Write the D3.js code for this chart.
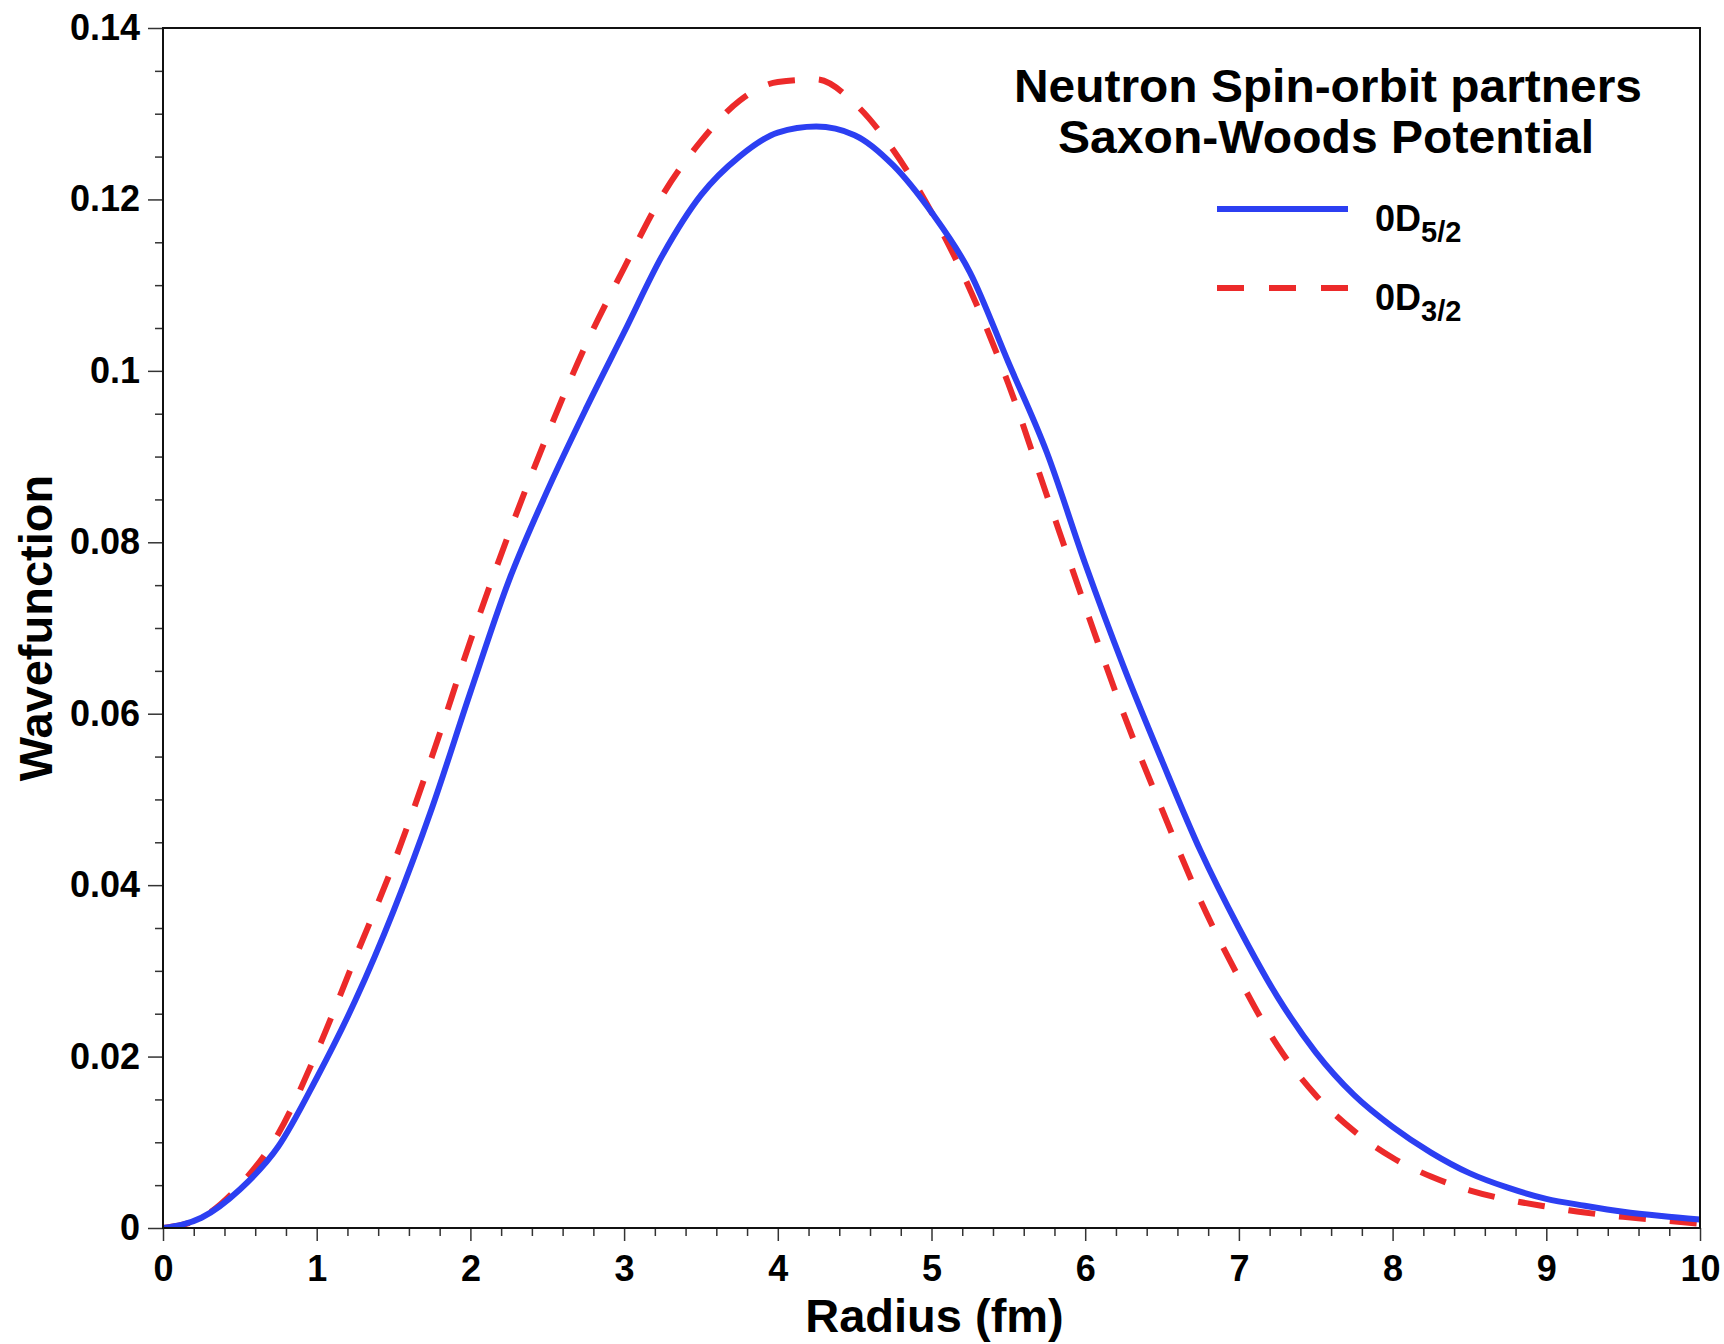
<!DOCTYPE html>
<html>
<head>
<meta charset="utf-8">
<script src="https://cdn.jsdelivr.net/npm/d3@7"></script>
<style>
  html, body { margin: 0; padding: 0; background: #fff; }
  svg { display: block; }
  text { font-family: "Liberation Sans", Arial, Helvetica, sans-serif; font-weight: bold; fill: #000; }
</style>
</head>
<body>
<svg id="chart" width="1724" height="1344"></svg>
<script>
// ---- data ----
const radius = [0,0.25,0.5,0.75,1,1.25,1.5,1.75,2,2.25,2.5,2.75,3,3.25,3.5,3.75,4,4.25,4.5,4.75,5,5.25,5.5,5.75,6,6.25,6.5,6.75,7,7.25,7.5,7.75,8,8.25,8.5,8.75,9,9.25,9.5,9.75,10];
const d52 = [0,0.0012,0.0045,0.0095,0.0175,0.0265,0.037,0.049,0.0625,0.0755,0.0860,0.0955,0.1045,0.1135,0.1205,0.1250,0.1278,0.1285,0.1275,0.1240,0.1185,0.1115,0.1010,0.0905,0.0775,0.0655,0.0545,0.0440,0.0350,0.0270,0.0205,0.0155,0.0118,0.0088,0.0064,0.0047,0.0034,0.0026,0.0019,0.0014,0.0010];
const d32 = [0,0.0012,0.005,0.011,0.0205,0.0315,0.0425,0.055,0.0685,0.081,0.0925,0.103,0.112,0.1205,0.1268,0.1315,0.1337,0.1340,0.1312,0.1258,0.1185,0.1095,0.0985,0.0855,0.0725,0.0600,0.0488,0.0382,0.0292,0.0213,0.0155,0.0113,0.0082,0.0060,0.0044,0.0033,0.0025,0.0018,0.0013,0.0009,0.0005];
const seriesNames = ["0D", "0D"];
const seriesSubs = ["5/2", "3/2"];
const xTicks = [0,1,2,3,4,5,6,7,8,9,10];
const xTickLabels = ["0","1","2","3","4","5","6","7","8","9","10"];
const yTicks = [0,0.02,0.04,0.06,0.08,0.1,0.12,0.14];
const yTickLabels = ["0","0.02","0.04","0.06","0.08","0.1","0.12","0.14"];
const titleLines = ["Neutron Spin-orbit partners", "Saxon-Woods Potential"];
const xTitle = "Radius (fm)";
const yTitle = "Wavefunction";

// ---- layout ----
const L = 163, T = 28, R = 1700, B = 1228;
const svg = d3.select("#chart");
const x = d3.scaleLinear().domain([0, 10]).range([L, R]);
const y = d3.scaleLinear().domain([0, 0.14]).range([B, T]);

const xMinor = d3.range(0, 10.0001, 0.2).filter(v => Math.abs(v - Math.round(v)) > 1e-6);
const yMinor = d3.range(0, 0.14001, 0.005).filter(v => Math.abs(v / 0.02 - Math.round(v / 0.02)) > 1e-6);

// minor ticks
svg.append("g").attr("transform", `translate(0,${B})`)
  .call(d3.axisBottom(x).tickValues(xMinor).tickSize(8).tickFormat(""))
  .call(g => g.select(".domain").remove())
  .call(g => g.selectAll("line").attr("stroke", "#333").attr("stroke-width", 1.5));
svg.append("g").attr("transform", `translate(${L},0)`)
  .call(d3.axisLeft(y).tickValues(yMinor).tickSize(8).tickFormat(""))
  .call(g => g.select(".domain").remove())
  .call(g => g.selectAll("line").attr("stroke", "#333").attr("stroke-width", 1.5));

// major ticks
svg.append("g").attr("transform", `translate(0,${B})`)
  .call(d3.axisBottom(x).tickValues(xTicks).tickSize(13).tickPadding(14)
    .tickFormat((d, i) => xTickLabels[i]))
  .call(g => g.select(".domain").remove())
  .call(g => g.selectAll("line").attr("stroke", "#333").attr("stroke-width", 1.5))
  .call(g => g.selectAll("text").attr("font-size", 36).attr("font-family", "Liberation Sans, Arial, sans-serif").attr("font-weight", "bold").attr("fill", "#000"));
svg.append("g").attr("transform", `translate(${L},0)`)
  .call(d3.axisLeft(y).tickValues(yTicks).tickSize(15).tickPadding(8)
    .tickFormat((d, i) => yTickLabels[i]))
  .call(g => g.select(".domain").remove())
  .call(g => g.selectAll("line").attr("stroke", "#333").attr("stroke-width", 1.5))
  .call(g => g.selectAll("text").attr("font-size", 36).attr("font-family", "Liberation Sans, Arial, sans-serif").attr("font-weight", "bold").attr("fill", "#000"));

// clip
svg.append("clipPath").attr("id", "clip").append("rect")
  .attr("x", L).attr("y", T).attr("width", R - L).attr("height", B - T);

const line = d3.line().x(d => x(d[0])).y(d => y(d[1])).curve(d3.curveMonotoneX);
const blue = "#2c3ff2", red = "#ec2a2a";

svg.append("path").datum(radius.map((r, i) => [r, d32[i]]))
  .attr("clip-path", "url(#clip)")
  .attr("d", line).attr("fill", "none").attr("stroke", red)
  .attr("stroke-width", 6).attr("stroke-dasharray", "27,24");
svg.append("path").datum(radius.map((r, i) => [r, d52[i]]))
  .attr("clip-path", "url(#clip)")
  .attr("d", line).attr("fill", "none").attr("stroke", blue)
  .attr("stroke-width", 6).attr("stroke-linejoin", "round");

// frame
svg.append("rect").attr("x", L).attr("y", T).attr("width", R - L).attr("height", B - T)
  .attr("fill", "none").attr("stroke", "#111").attr("stroke-width", 2);

// title
const tl = svg.append("g");
tl.append("text").attr("x", 1328).attr("y", 102).attr("text-anchor", "middle")
  .attr("font-size", 46).attr("textLength", 628).attr("lengthAdjust", "spacingAndGlyphs").text(titleLines[0]);
tl.append("text").attr("x", 1326).attr("y", 153).attr("text-anchor", "middle")
  .attr("font-size", 46).attr("textLength", 536).attr("lengthAdjust", "spacingAndGlyphs").text(titleLines[1]);

// legend
const legY = [209, 288];
const legColors = [blue, red];
const legDash = [null, "27,25"];
legY.forEach((ly, i) => {
  svg.append("line").attr("x1", 1217).attr("x2", 1348).attr("y1", ly).attr("y2", ly)
    .attr("stroke", legColors[i]).attr("stroke-width", 6)
    .attr("stroke-dasharray", legDash[i]);
  const t = svg.append("text").attr("x", 1375).attr("y", ly + 22).attr("font-size", 36);
  t.append("tspan").text(seriesNames[i]);
  t.append("tspan").attr("font-size", 29).attr("dy", 11).text(seriesSubs[i]);
});

// axis titles
svg.append("text").attr("x", (L + R) / 2 + 3).attr("y", 1332).attr("text-anchor", "middle")
  .attr("font-size", 47).text(xTitle);
svg.append("text").attr("transform", `translate(52,${(T + B) / 2}) rotate(-90)`)
  .attr("text-anchor", "middle").attr("font-size", 47).text(yTitle);
</script>
</body>
</html>
